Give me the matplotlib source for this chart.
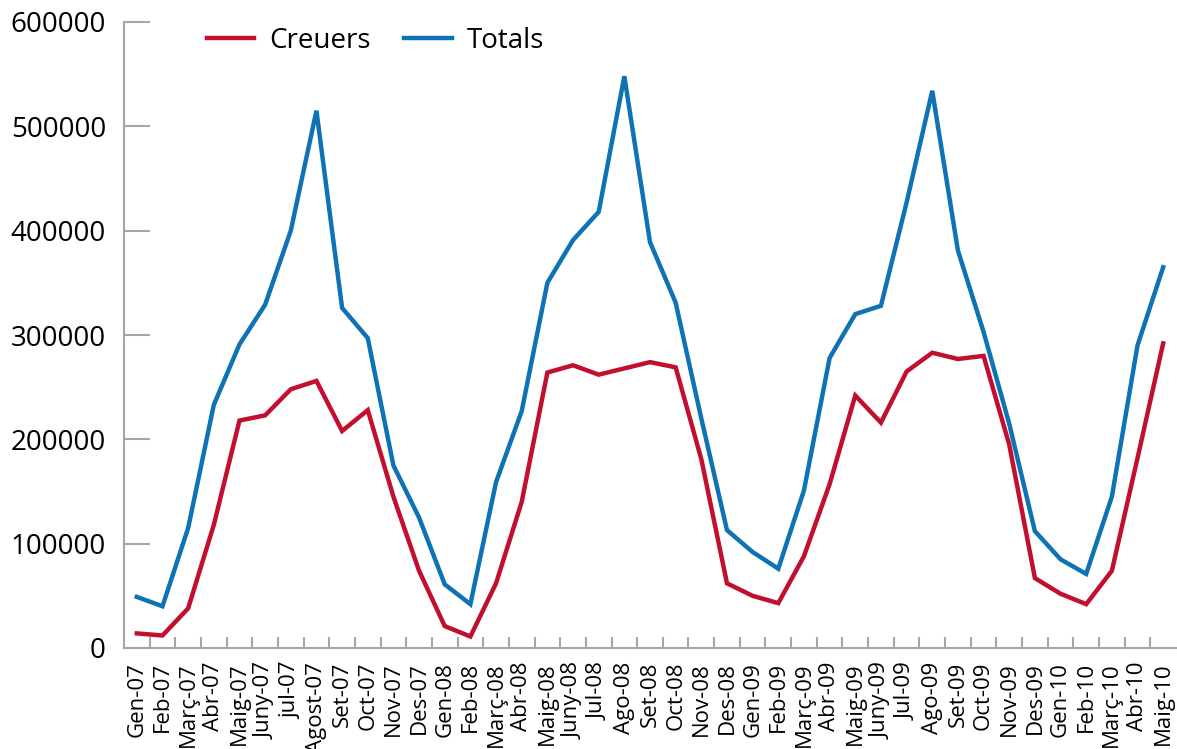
import matplotlib
matplotlib.use("Agg")
import matplotlib.pyplot as plt
import numpy as np

plt.rcParams['font.family'] = ['Open Sans', 'DejaVu Sans']

months = ["Gen-07", "Feb-07", "Març-07", "Abr-07", "Maig-07", "Juny-07", "jul-07", "Agost-07",
          "Set-07", "Oct-07", "Nov-07", "Des-07",
          "Gen-08", "Feb-08", "Març-08", "Abr-08", "Maig-08", "Juny-08", "Jul-08", "Ago-08",
          "Set-08", "Oct-08", "Nov-08", "Des-08",
          "Gen-09", "Feb-09", "Març-09", "Abr-09", "Maig-09", "Juny-09", "Jul-09", "Ago-09",
          "Set-09", "Oct-09", "Nov-09", "Des-09",
          "Gen-10", "Feb-10", "Març-10", "Abr-10", "Maig-10"]

creuers = [14000, 12000, 38000, 118000, 218000, 223000, 248000, 256000,
           208000, 228000, 145000, 74000,
           21000, 11000, 62000, 140000, 264000, 271000, 262000, 268000,
           274000, 269000, 181000, 62000,
           50000, 43000, 88000, 157000, 242000, 216000, 265000, 283000,
           277000, 280000, 195000, 67000,
           52000, 42000, 74000, 182000, 292000]

totals = [49000, 40000, 115000, 233000, 291000, 329000, 400000, 515000,
          326000, 297000, 175000, 125000,
          61000, 42000, 159000, 227000, 350000, 391000, 418000, 548000,
          389000, 331000, 220000, 113000,
          92000, 76000, 151000, 278000, 320000, 328000, 427000, 534000,
          381000, 303000, 215000, 112000,
          85000, 71000, 145000, 290000, 365000]

yticks = [0, 100000, 200000, 300000, 400000, 500000, 600000]

red = "#C20E2F"
blue = "#0F72B5"
gray = "#A6A6A6"

fig = plt.figure(figsize=(11.77, 7.49), dpi=100)
ax = fig.add_axes([124/1177, 1 - 648/749, (1176-124)/1177, (648-22)/749])

x = np.arange(len(months))
ax.plot(x, creuers, color=red, lw=3.2, label="Creuers", solid_joinstyle='miter')
ax.plot(x, totals, color=blue, lw=3.2, label="Totals", solid_joinstyle='miter')

ax.set_xlim(-0.5, len(months) - 0.5)
ax.set_ylim(0, 600000)

ax.set_yticks(yticks)
ax.set_yticklabels([str(v) for v in yticks])
ax.tick_params(axis='y', direction='in', length=19, width=1.5, color=gray,
               labelsize=20, pad=13)

ax.set_xticks(x)
ax.set_xticklabels(months, rotation=90, va='top', ha='center')
ax.tick_params(axis='x', which='major', length=0, labelsize=16, pad=10)
ax.set_xticks(np.arange(len(months) - 1) + 0.5, minor=True)
ax.tick_params(axis='x', which='minor', direction='in', length=8, width=1.5, color=gray)

for s in ['top', 'right']:
    ax.spines[s].set_visible(False)
for s in ['left', 'bottom']:
    ax.spines[s].set_color(gray)
    ax.spines[s].set_linewidth(1.5)

leg = ax.legend(loc='center left', bbox_to_anchor=(207/1177, 1 - 41/749),
                bbox_transform=fig.transFigure, ncol=2, frameon=False,
                fontsize=20, handlelength=1.7, handletextpad=0.55,
                columnspacing=1.2, borderpad=0, borderaxespad=0)

fig.savefig("out.png", dpi=100)
